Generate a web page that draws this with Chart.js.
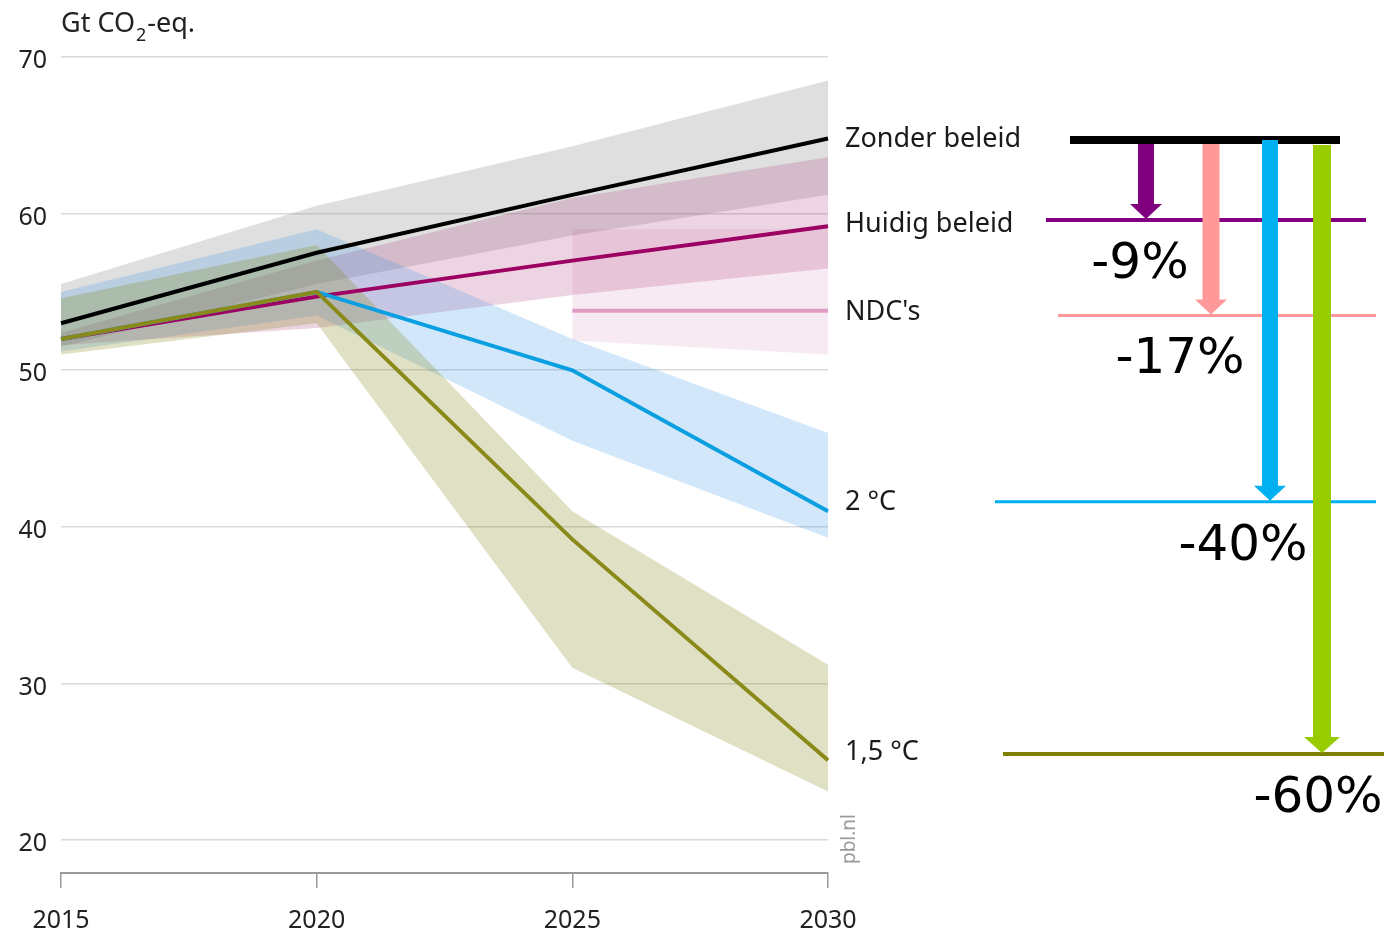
<!DOCTYPE html>
<html>
<head>
<meta charset="utf-8">
<title>Emissies 2015-2030</title>
<script src="https://cdn.jsdelivr.net/npm/chart.js@4/dist/chart.umd.min.js"></script>
<style>
  body { margin: 0; background: #fff; }
  #wrap { width: 1388px; height: 936px; }
</style>
</head>
<body>
<div id="wrap"><canvas id="emissionChart" width="1388" height="936"></canvas></div>
<script>
// years on the x axis
const years = ['2015', '2020', '2025', '2030'];
const yTicks = [20, 30, 40, 50, 60, 70];

// scenario lines (Gt CO2-eq.)
const zonderBeleid = [53.0, 57.5, 61.2, 64.8];
const huidigBeleid = [52.0, 54.7, 57.0, 59.2];
const ndcs = [null, null, 53.8, 53.8];
const tweeGraden = [52.0, 55.0, 50.0, 41.0];
const anderhalfGraad = [52.0, 55.0, 39.2, 25.1];

// uncertainty ranges
const zonderLow = [51.5, 55.5, 58.6, 61.2];
const zonderHigh = [55.5, 60.5, 64.3, 68.5];
const huidigLow = [51.6, 52.7, 54.8, 56.5];
const huidigHigh = [52.4, 57.0, 61.0, 63.6];
const ndcLow = [null, null, 51.9, 51.0];
const ndcHigh = [null, null, 59.0, 59.0];
const tweeLow = [51.2, 53.5, 45.5, 39.3];
const tweeHigh = [55.0, 59.0, 52.0, 46.0];
const anderhalfLow = [51.0, 53.0, 31.0, 23.1];
const anderhalfHigh = [54.6, 58.0, 41.0, 31.2];

// reduction diagram: levels in 2030 and the reduction vs. no policy
const reductionLevels = [64.7, 59.6, 53.5, 41.6, 25.5];
const reductionLabels = ['-9%', '-17%', '-40%', '-60%'];

const scenarioNames = ['Zonder beleid', 'Huidig beleid', "NDC's", '2 °C', '1,5 °C'];

const font = "'Noto Sans', sans-serif";

function band(data, color, order, fillTo) {
  return {
    data: data,
    borderWidth: 0,
    pointRadius: 0,
    backgroundColor: color,
    fill: fillTo === undefined ? false : fillTo,
    order: order,
    tension: 0
  };
}

function line(data, color, order, width) {
  return {
    data: data,
    borderColor: color,
    borderWidth: width || 4,
    pointRadius: 0,
    fill: false,
    order: order,
    tension: 0,
    borderJoinStyle: 'miter'
  };
}

const datasets = [
  line(zonderBeleid, '#000000', 0),          // 0
  line(anderhalfGraad, '#8a8a1a', 1),        // 1
  line(tweeGraden, '#0a9fe0', 2),            // 2
  line(huidigBeleid, '#9b0062', 3),          // 3
  line(ndcs, '#e09bc4', 4),                  // 4
  band(anderhalfHigh, 'rgba(130,130,20,0.25)', 10, 6),  // 5
  band(anderhalfLow, 'transparent', 10),                // 6
  band(tweeHigh, 'rgba(30,140,230,0.2)', 11, 8),        // 7
  band(tweeLow, 'transparent', 11),                     // 8
  band(huidigHigh, 'rgba(165,40,110,0.2)', 12, 10),     // 9
  band(huidigLow, 'transparent', 12),                   // 10
  band(ndcHigh, 'rgba(200,80,150,0.12)', 13, 12),       // 11
  band(ndcLow, 'transparent', 13),                      // 12
  band(zonderHigh, 'rgba(150,150,150,0.3)', 14, 14),    // 13
  band(zonderLow, 'transparent', 14)                    // 14
];

// labels, title and the reduction arrows on the right
const extras = {
  id: 'extras',
  afterDraw(chart) {
    const ctx = chart.ctx;
    const y = chart.scales.y;
    ctx.save();

    // axis title with subscript
    ctx.fillStyle = '#222';
    ctx.textBaseline = 'alphabetic';
    ctx.textAlign = 'left';
    ctx.font = '27px ' + font;
    let x = 61;
    ctx.fillText('Gt CO', x, 32);
    x += ctx.measureText('Gt CO').width;
    ctx.font = '18px ' + font;
    ctx.fillText('2', x + 1, 41);
    x += ctx.measureText('2').width + 2;
    ctx.font = '27px ' + font;
    ctx.fillText('-eq.', x, 32);

    // scenario names next to the 2030 values
    const ends = [zonderBeleid[3], huidigBeleid[3], ndcs[3], tweeGraden[3], anderhalfGraad[3]];
    const nudge = [1, -2, 2, -9, -8];
    ctx.font = '27px ' + font;
    ctx.textBaseline = 'middle';
    ctx.fillStyle = '#1a1a1a';
    scenarioNames.forEach((name, i) => {
      ctx.fillText(name, 845, y.getPixelForValue(ends[i]) + nudge[i]);
    });

    // source
    ctx.save();
    ctx.translate(850, 839);
    ctx.rotate(-Math.PI / 2);
    ctx.textAlign = 'center';
    ctx.fillStyle = '#9a9a9a';
    ctx.font = '19px ' + font;
    ctx.fillText('pbl.nl', 0, 0);
    ctx.restore();

    // reduction diagram
    const lv = reductionLevels.map(v => y.getPixelForValue(v));
    const levelLines = [
      { x0: 1070, x1: 1340, w: 8, c: '#000000' },
      { x0: 1046, x1: 1366, w: 4, c: '#800080' },
      { x0: 1058, x1: 1376, w: 3, c: '#ff9999' },
      { x0: 995, x1: 1376, w: 3, c: '#00b0f0' },
      { x0: 1003, x1: 1384, w: 4, c: '#808000' }
    ];
    levelLines.forEach((l, i) => {
      ctx.strokeStyle = l.c;
      ctx.lineWidth = l.w;
      ctx.beginPath();
      ctx.moveTo(l.x0, lv[i]);
      ctx.lineTo(l.x1, lv[i]);
      ctx.stroke();
    });

    const arrows = [
      { cx: 1146, top: lv[0] + 4, sw: 16, hw: 32, hh: 15, c: '#800080' },
      { cx: 1211, top: lv[0] + 4, sw: 17, hw: 32, hh: 15, c: '#ff9999' },
      { cx: 1270, top: lv[0], sw: 16, hw: 32, hh: 15, c: '#00b0f0' },
      { cx: 1322, top: lv[0] + 5, sw: 18, hw: 36, hh: 16, c: '#99cc00' }
    ];
    arrows.forEach((a, i) => {
      const tip = lv[i + 1] - 1;
      ctx.fillStyle = a.c;
      ctx.beginPath();
      ctx.moveTo(a.cx - a.sw / 2, a.top);
      ctx.lineTo(a.cx + a.sw / 2, a.top);
      ctx.lineTo(a.cx + a.sw / 2, tip - a.hh);
      ctx.lineTo(a.cx + a.hw / 2, tip - a.hh);
      ctx.lineTo(a.cx, tip);
      ctx.lineTo(a.cx - a.hw / 2, tip - a.hh);
      ctx.lineTo(a.cx - a.sw / 2, tip - a.hh);
      ctx.closePath();
      ctx.fill();
    });

    const labelX = [1140, 1180, 1243, 1318];
    ctx.fillStyle = '#000';
    ctx.font = "50px 'DejaVu Sans', sans-serif";
    ctx.textAlign = 'center';
    ctx.textBaseline = 'middle';
    reductionLabels.forEach((t, i) => {
      ctx.fillText(t, labelX[i], lv[i + 1] + 45);
    });

    ctx.restore();
  }
};

const chart = new Chart(document.getElementById('emissionChart'), {
  type: 'line',
  data: { labels: years, datasets: datasets },
  options: {
    responsive: false,
    animation: false,
    events: [],
    layout: { padding: { top: 57, right: 560, left: 0, bottom: 0 } },
    plugins: {
      legend: { display: false },
      tooltip: { enabled: false },
      filler: { propagate: false }
    },
    scales: {
      x: {
        offset: false,
        border: { display: true, color: '#9a9a9a', width: 2 },
        grid: { drawOnChartArea: false, drawTicks: true, tickLength: 15, color: '#9a9a9a', lineWidth: 1.5 },
        ticks: { color: '#222', font: { family: font, size: 25 }, padding: 18, maxRotation: 0 },
        afterFit(scale) { scale.height = 63; }
      },
      y: {
        min: 17.9,
        max: 70,
        border: { display: false },
        grid: { color: '#d9d9d9', lineWidth: 1.5, drawTicks: false },
        ticks: { color: '#222', font: { family: font, size: 25 }, padding: 14, labelOffset: 4 },
        afterBuildTicks(scale) { scale.ticks = yTicks.map(v => ({ value: v })); },
        afterFit(scale) { scale.width = 61; }
      }
    }
  },
  plugins: [extras]
});
</script>
</body>
</html>
